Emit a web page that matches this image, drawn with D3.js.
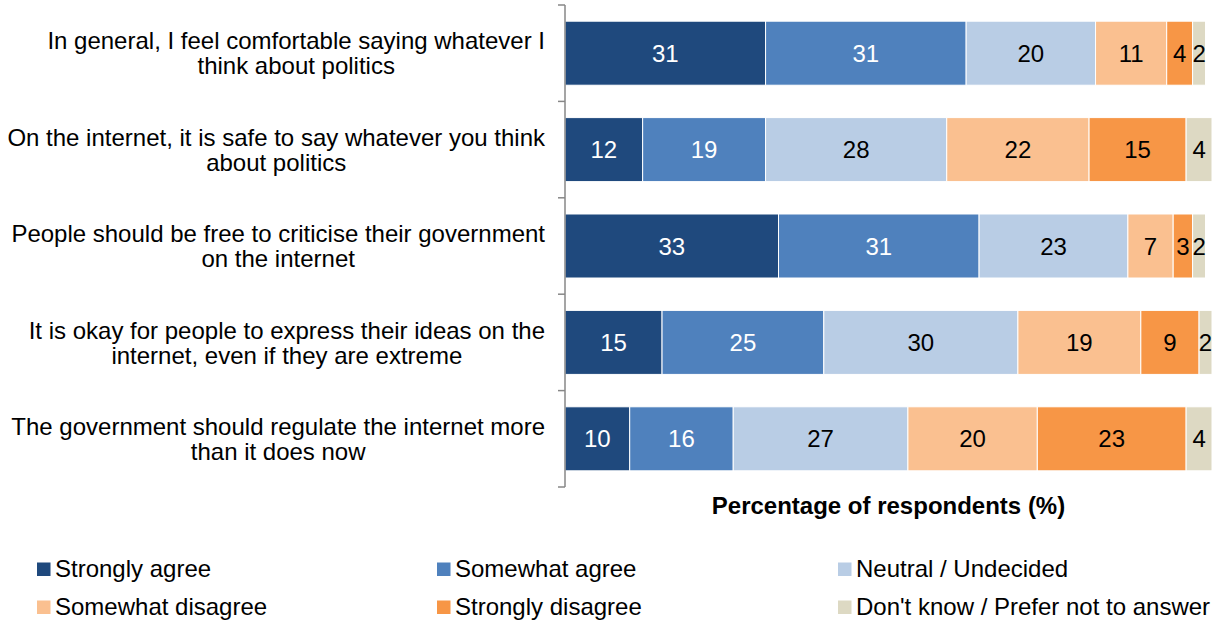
<!DOCTYPE html>
<html>
<head>
<meta charset="utf-8">
<script src="https://cdn.jsdelivr.net/npm/d3@7"></script>
<style>
  html, body { margin: 0; padding: 0; background: #fff; }
  svg { display: block; font-family: Arial, "Liberation Sans", sans-serif; }
</style>
</head>
<body>
<svg id="chart" width="1212" height="623"></svg>
<script>
// Survey statements (each split into two display lines)
const statements = [
  ["In general, I feel comfortable saying whatever I", "think about politics"],
  ["On the internet, it is safe to say whatever you think", "about politics"],
  ["People should be free to criticise their government", "on the internet"],
  ["It is okay for people to express their ideas on the", "internet, even if they are extreme"],
  ["The government should regulate the internet more", "than it does now"]
];

// Response categories, in stacking order
const responses = [
  "Strongly agree",
  "Somewhat agree",
  "Neutral / Undecided",
  "Somewhat disagree",
  "Strongly disagree",
  "Don't know / Prefer not to answer"
];

// Percentage of respondents for each response, one value per statement
const stronglyAgree    = [31, 12, 33, 15, 10];
const somewhatAgree    = [31, 19, 31, 25, 16];
const neutral          = [20, 28, 23, 30, 27];
const somewhatDisagree = [11, 22,  7, 19, 20];
const stronglyDisagree = [ 4, 15,  3,  9, 23];
const dontKnow         = [ 2,  4,  2,  2,  4];

const axisTitle = "Percentage of respondents (%)";

const seriesValues = [stronglyAgree, somewhatAgree, neutral, somewhatDisagree, stronglyDisagree, dontKnow];
const colors = ["#1F497D", "#4F81BD", "#B9CDE5", "#FAC090", "#F79646", "#DDD9C3"];
const labelColors = ["#fff", "#fff", "#000", "#000", "#000", "#000"];

const rows = statements.map((s, i) => {
  const r = { key: i };
  responses.forEach((k, j) => { r[k] = seriesValues[j][i]; });
  return r;
});

const stacked = d3.stack().keys(responses)(rows);

const svg = d3.select("#chart");
const fontSize = 24;

const x = d3.scaleLinear().domain([0, 100]).range([565, 1212]);
const y = d3.scaleBand()
  .domain(d3.range(statements.length))
  .range([5, 487])
  .paddingInner(0.336)
  .paddingOuter(0.168);

// Stacked bar segments
const layers = svg.append("g").selectAll("g")
  .data(stacked)
  .join("g")
  .attr("fill", (d, i) => colors[i]);

layers.selectAll("rect")
  .data(d => d)
  .join("rect")
  .attr("x", d => x(d[0]))
  .attr("y", (d, i) => y(i))
  .attr("width", d => x(d[1]) - x(d[0]))
  .attr("height", y.bandwidth())
  .attr("stroke", "#fff")
  .attr("stroke-width", 1);

// Value labels centred in each segment
stacked.forEach((layer, j) => {
  svg.append("g").selectAll("text")
    .data(layer)
    .join("text")
    .attr("x", d => (x(d[0]) + x(d[1])) / 2)
    .attr("y", (d, i) => y(i) + y.bandwidth() / 2)
    .attr("dy", "0.36em")
    .attr("text-anchor", "middle")
    .attr("font-size", fontSize)
    .attr("fill", labelColors[j])
    .text(d => d[1] - d[0]);
});

// Category axis: vertical line with ticks between statements
const axisG = svg.append("g").attr("stroke", "#878787").attr("stroke-width", 1.5);
const y0 = y.range()[0], y1 = y.range()[1];
axisG.append("line")
  .attr("x1", x(0)).attr("x2", x(0))
  .attr("y1", y0).attr("y2", y1);
axisG.selectAll("line.tick")
  .data(d3.range(statements.length + 1))
  .join("line")
  .attr("class", "tick")
  .attr("x1", x(0) - 7).attr("x2", x(0))
  .attr("y1", i => y0 + i * y.step())
  .attr("y2", i => y0 + i * y.step());

// Statement labels: two centred lines, block right-aligned to the axis
const labelRight = 545;
const lineGap = 25;
statements.forEach((lines, i) => {
  const cy = y(i) + y.bandwidth() / 2;
  const g = svg.append("g");
  const texts = g.selectAll("text")
    .data(lines)
    .join("text")
    .attr("font-size", fontSize)
    .attr("fill", "#000")
    .attr("text-anchor", "middle")
    .attr("dy", "0.36em")
    .attr("y", (d, k) => cy + (k - (lines.length - 1) / 2) * lineGap)
    .text(d => d);
  const widest = d3.max(texts.nodes(), n => n.getComputedTextLength());
  texts.attr("x", labelRight - widest / 2);
});

// Axis title
svg.append("text")
  .attr("x", (x(0) + x(100)) / 2)
  .attr("y", 514)
  .attr("text-anchor", "middle")
  .attr("font-size", fontSize)
  .attr("font-weight", "bold")
  .attr("fill", "#000")
  .text(axisTitle);

// Legend: two rows of three
const legendCols = [37, 437, 838];
const legendRows = [577, 615];
const legend = svg.append("g").selectAll("g")
  .data(responses)
  .join("g")
  .attr("transform", (d, i) => `translate(${legendCols[i % 3]},${legendRows[Math.floor(i / 3)]})`);
legend.append("rect")
  .attr("x", 0).attr("y", -14.5)
  .attr("width", 13.5).attr("height", 13.5)
  .attr("fill", (d, i) => colors[i]);
legend.append("text")
  .attr("x", 18)
  .attr("y", 0)
  .attr("font-size", fontSize)
  .attr("fill", "#000")
  .text(d => d);
</script>
</body>
</html>
